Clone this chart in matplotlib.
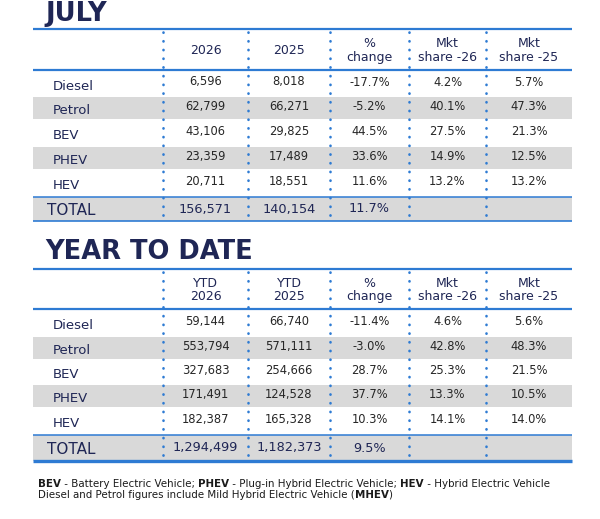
import matplotlib
matplotlib.use('Agg')
import matplotlib.pyplot as plt

categories = ['Diesel', 'Petrol', 'BEV', 'PHEV', 'HEV']

july_2026 = [6596, 62799, 43106, 23359, 20711]
july_2025 = [8018, 66271, 29825, 17489, 18551]
july_change = [-17.7, -5.2, 44.5, 33.6, 11.6]
july_share_26 = [4.2, 40.1, 27.5, 14.9, 13.2]
july_share_25 = [5.7, 47.3, 21.3, 12.5, 13.2]
july_total = [156571, 140154, 11.7]

ytd_2026 = [59144, 553794, 327683, 171491, 182387]
ytd_2025 = [66740, 571111, 254666, 124528, 165328]
ytd_change = [-11.4, -3.0, 28.7, 37.7, 10.3]
ytd_share_26 = [4.6, 42.8, 25.3, 13.3, 14.1]
ytd_share_25 = [5.6, 48.3, 21.5, 10.5, 14.0]
ytd_total = [1294499, 1182373, 9.5]

july_header = ['2026', '2025', '%\nchange', 'Mkt\nshare -26', 'Mkt\nshare -25']
ytd_header = ['YTD\n2026', 'YTD\n2025', '%\nchange', 'Mkt\nshare -26', 'Mkt\nshare -25']

footnote = [
    [('BEV', True), (' - Battery Electric Vehicle; ', False), ('PHEV', True),
     (' - Plug-in Hybrid Electric Vehicle; ', False), ('HEV', True),
     (' - Hybrid Electric Vehicle', False)],
    [('Diesel and Petrol figures include Mild Hybrid Electric Vehicle (', False),
     ('MHEV', True), (')', False)],
]

NAVY = '#1f2655'
BLUE = '#2e7bd3'
GREY = '#d9d9d9'
INK = '#262626'

fig = plt.figure(figsize=(6, 5.19), dpi=100)
ax = fig.add_axes([0, 0, 1, 1])
ax.set_xlim(0, 600)
ax.set_ylim(519, 0)
ax.axis('off')

x_left, x_right = 33, 572
dividers = [163, 248, 330, 409, 486]
col_centres = [205.5, 289, 369.5, 447.5, 529]


def draw_table(title, title_y, top, header_bottom, row_edges, header, cols, total, bottom_lw):
    ax.text(45, title_y, title, fontsize=18.5, fontweight='heavy', color=NAVY,
            va='center', ha='left')
    # grey bands: Petrol, PHEV, TOTAL
    for i in (1, 3, 5):
        ax.axhspan(row_edges[i], row_edges[i + 1], xmin=x_left / 600, xmax=x_right / 600,
                   color=GREY, lw=0, zorder=0)
    ax.hlines(top, x_left, x_right, color=BLUE, lw=1.6)
    ax.hlines(header_bottom, x_left, x_right, color=BLUE, lw=1.6)
    ax.hlines(row_edges[5], x_left, x_right, color=BLUE, lw=1.1)
    ax.hlines(row_edges[6], x_left, x_right, color=BLUE, lw=bottom_lw)
    for xd in dividers:
        ax.vlines(xd, top + 3, row_edges[6], color=BLUE, lw=1.9,
                  linestyles=[(0, (0.1, 3.2))], capstyle='round')

    hy = (top + header_bottom) / 2 + 1
    for xc, h in zip(col_centres, header):
        ax.text(xc, hy, h, fontsize=9, color=NAVY, ha='center', va='center',
                linespacing=1.05)

    for r, name in enumerate(categories):
        yc = (row_edges[r] + row_edges[r + 1]) / 2
        ax.text(53, yc + 2.5, name, fontsize=9.5, color=NAVY, ha='left', va='center')
        vals = [f'{cols[0][r]:,}', f'{cols[1][r]:,}', f'{cols[2][r]:.1f}%',
                f'{cols[3][r]:.1f}%', f'{cols[4][r]:.1f}%']
        for xc, v in zip(col_centres, vals):
            ax.text(xc, yc - 1.5, v, fontsize=8.3, color=INK, ha='center', va='center')

    yt = (row_edges[5] + row_edges[6]) / 2
    ax.text(47, yt + 1.5, 'TOTAL', fontsize=11, color=NAVY, ha='left', va='center')
    tvals = [f'{total[0]:,}', f'{total[1]:,}', f'{total[2]:.1f}%']
    for xc, v in zip(col_centres, tvals):
        ax.text(xc, yt, v, fontsize=9.3, color=NAVY, ha='center', va='center')


draw_table('JULY', 14, 29, 70, [70, 97, 119, 147, 169, 197, 221],
           july_header,
           [july_2026, july_2025, july_change, july_share_26, july_share_25],
           july_total, 1.2)
draw_table('YEAR TO DATE', 252, 269, 309, [309, 337, 359, 385, 407, 435, 461],
           ytd_header,
           [ytd_2026, ytd_2025, ytd_change, ytd_share_26, ytd_share_25],
           ytd_total, 2.4)

renderer = fig.canvas.get_renderer()
for line, y in zip(footnote, [484, 494.5]):
    x = 38
    for s, bold in line:
        t = ax.text(x, y, s, fontsize=7.4, color='#1a1a1a', ha='left', va='center',
                    fontweight='bold' if bold else 'normal')
        x += t.get_window_extent(renderer).width

fig.savefig('out.png', dpi=100)
